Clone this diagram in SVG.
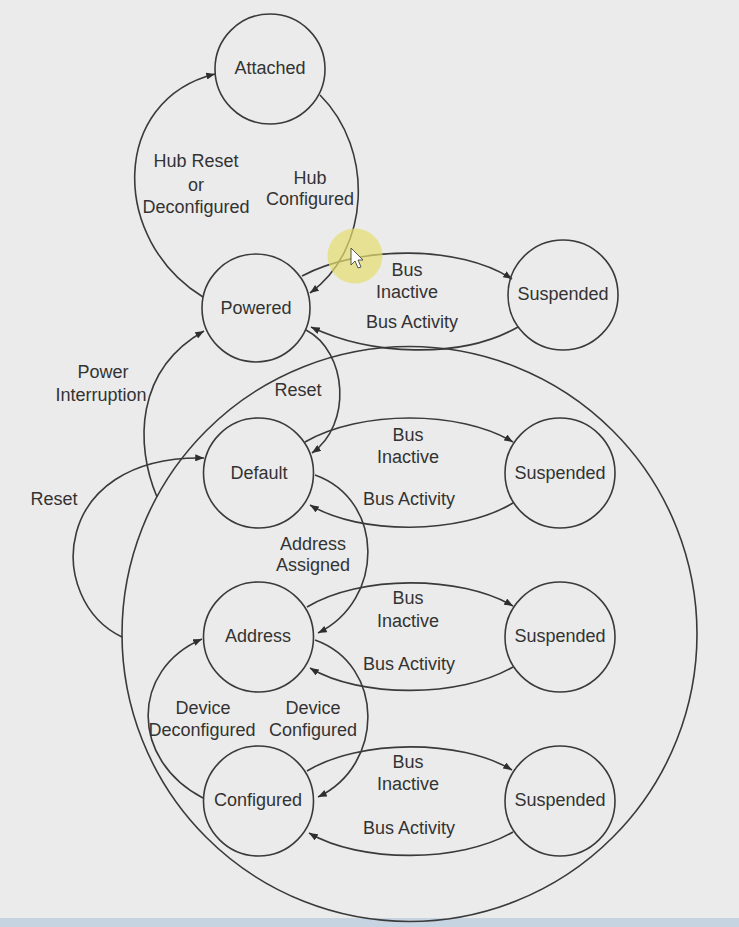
<svg xmlns="http://www.w3.org/2000/svg" width="739" height="927" viewBox="0 0 739 927">
<defs>
<marker id="arr" viewBox="0 0 10 8" refX="10" refY="4" markerWidth="9" markerHeight="7" markerUnits="userSpaceOnUse" orient="auto">
<path d="M0,0 L10,4 L0,8 z" fill="#2e2e2e"/>
</marker>
<style>
.st{fill:none;stroke:#3a3a3a;stroke-width:1.6}
.ed{fill:none;stroke:#3a3a3a;stroke-width:1.6;marker-end:url(#arr)}
text{font-family:"Liberation Sans",Arial,sans-serif;font-size:18px;fill:#333;text-anchor:middle;dominant-baseline:central}
</style>
</defs>
<rect x="0" y="0" width="739" height="927" fill="#ebebeb"/>
<rect x="0" y="918" width="739" height="9" fill="#c6d3e1"/>

<g id="superstate"><circle class="st" cx="409.5" cy="634" r="287.5"/></g>

<g id="connectors">
<path class="ed" d="M320,95 C375,150 370,250 310,293"/>
<path class="ed" d="M203,297 C110,240 110,100 215,74"/>
<path class="ed" d="M302,276 C360,245 460,245 512,279"/>
<path class="ed" d="M518,327 C460,360 370,355 311,327"/>
<path class="ed" d="M306,330 C348,352 352,425 312,453"/>
<path class="ed" d="M157,497 C135,445 135,370 204,331"/>
<path class="ed" d="M122,637 C45,600 50,455 204,458"/>
<path class="ed" d="M305,442 C360,410 460,410 513,442"/>
<path class="ed" d="M513,503 C460,535 360,535 310,505"/>
<path class="ed" d="M315,475 C385,500 385,600 318,633"/>
<path class="ed" d="M307,607 C360,575 460,575 513,606"/>
<path class="ed" d="M513,667 C460,698 360,698 310,668"/>
<path class="ed" d="M315,640 C385,665 385,765 318,797"/>
<path class="ed" d="M203,798 C130,760 130,670 202,639"/>
<path class="ed" d="M307,771 C360,739 460,739 512,770"/>
<path class="ed" d="M513,832 C460,863 360,863 309,833"/>
</g>

<g id="labels">
<text x="196" y="161">Hub Reset</text>
<text x="196" y="185">or</text>
<text x="196" y="207">Deconfigured</text>
<text x="310" y="178">Hub</text>
<text x="310" y="199">Configured</text>
<text x="407" y="270">Bus</text>
<text x="407" y="292">Inactive</text>
<text x="412" y="322">Bus Activity</text>
<text x="103" y="372">Power</text>
<text x="101" y="395">Interruption</text>
<text x="298" y="390">Reset</text>
<text x="54" y="499">Reset</text>
<text x="408" y="435">Bus</text>
<text x="408" y="457">Inactive</text>
<text x="409" y="499">Bus Activity</text>
<text x="313" y="544">Address</text>
<text x="313" y="565">Assigned</text>
<text x="408" y="598">Bus</text>
<text x="408" y="621">Inactive</text>
<text x="409" y="664">Bus Activity</text>
<text x="203" y="708">Device</text>
<text x="202" y="730">Deconfigured</text>
<text x="313" y="708">Device</text>
<text x="313" y="730">Configured</text>
<text x="408" y="762">Bus</text>
<text x="408" y="784">Inactive</text>
<text x="409" y="828">Bus Activity</text>
</g>

<g id="attached"><circle class="st" cx="270" cy="69" r="55"/><text x="270" y="68">Attached</text></g>
<g id="powered"><circle class="st" cx="256" cy="308" r="54"/><text x="256" y="308">Powered</text></g>
<g id="suspended1"><circle class="st" cx="563" cy="295" r="55"/><text x="563" y="294">Suspended</text></g>
<g id="default"><circle class="st" cx="258.5" cy="473" r="55"/><text x="259" y="473">Default</text></g>
<g id="suspended2"><circle class="st" cx="560" cy="473" r="55"/><text x="560" y="473">Suspended</text></g>
<g id="address"><circle class="st" cx="258.5" cy="637" r="55"/><text x="258" y="636">Address</text></g>
<g id="suspended3"><circle class="st" cx="560" cy="637" r="55"/><text x="560" y="636">Suspended</text></g>
<g id="configured"><circle class="st" cx="258.5" cy="801" r="55"/><text x="258" y="800">Configured</text></g>
<g id="suspended4"><circle class="st" cx="560" cy="801" r="55"/><text x="560" y="800">Suspended</text></g>

<g id="cursor">
<circle cx="355" cy="256" r="27.5" fill="#e6de6e" opacity="0.7"/>
<polygon points="351,248 351,265 355,261 358,268 361,267 358,260 363,260" fill="#fff" stroke="#444" stroke-width="0.9"/>
</g>
</svg>
